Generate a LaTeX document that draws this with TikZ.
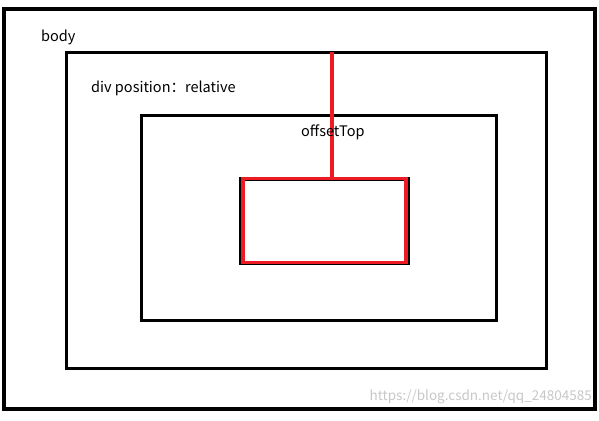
\documentclass[tikz,border=0pt]{standalone}
\usepackage{fontspec}
\setmainfont{Noto Sans CJK SC}
\usetikzlibrary{positioning}

\definecolor{markred}{HTML}{ED1C24}
\tikzset{
  frame/.style={draw=black,line width=3.6pt,rectangle,inner sep=0pt},
  redframe/.style={draw=markred,line width=3.4pt,rectangle,inner sep=0pt},
  lbl/.style={inner sep=0pt,font=\fontsize{14.5}{16}\selectfont}
}

\begin{document}
\begin{tikzpicture}[x=1pt,y=-1pt]
    \useasboundingbox (0,0) rectangle (599,420);
    \node[frame,minimum width=591pt,minimum height=400pt] at (299.5,209) (body) {};
    \node[frame,minimum width=480pt,minimum height=316pt] at (306.5,210.5) (div) {};
    \node[frame,minimum width=355pt,minimum height=205pt] at (319,218) (inner) {};
    \node[frame,minimum width=168pt,minimum height=84pt] at (324.5,221) (child) {};
    \node[redframe,minimum width=163pt,minimum height=84pt] at (324.5,220.5) (offset) {};
    \coordinate (top) at (332,52);
    \draw[markred,line width=3.4pt] (top) -- (top |- offset.north);
    \node[lbl,anchor=west] at (41,37) (bodylbl) {body};
    \node[lbl,anchor=west] at (91,88) (divlbl) {div position：relative};
    \node[lbl,anchor=west] at (301,132) (toplbl) {offsetTop};
    \node[lbl,anchor=east,text=black!22,font=\fontsize{13.5}{15}\selectfont] at (592,397) (mark) {https://blog.csdn.net/qq\_24804585};
\end{tikzpicture}
\end{document}
